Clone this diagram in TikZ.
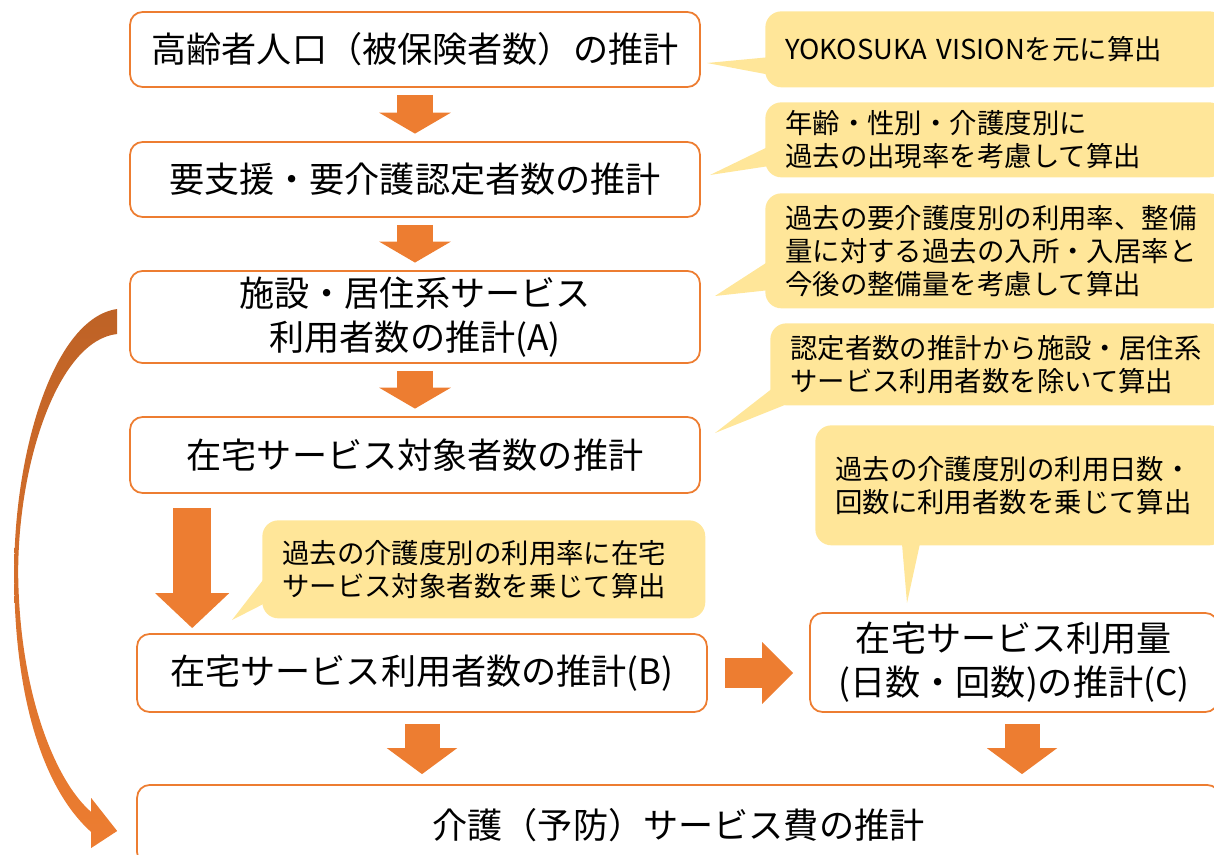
\documentclass[tikz,border=0pt]{standalone}
\usepackage{fontspec}
\setmainfont{Noto Sans CJK JP}
\usetikzlibrary{arrows.meta}
\definecolor{flowor}{HTML}{ED7D31}
\definecolor{flowdark}{RGB}{190,98,38}
\definecolor{memoy}{HTML}{FFE699}
\begin{document}
\begin{tikzpicture}[x=0.02cm, y=-0.02cm,
  estbox/.style={draw=flowor, line width=1pt, rounded corners=0.25cm, fill=white, minimum width=11.4cm, minimum height=1.5cm, align=center, font=\fontsize{20}{25}\selectfont},
  memo/.style={fill=memoy, rounded corners=0.32cm, anchor=north west, inner xsep=0.4cm, inner ysep=0pt, align=left, font=\fontsize{15.6}{18.8}\selectfont},
  flow/.style n args={3}{draw=flowor, line width=#1, -{Triangle[length=#3, width=#2]}}]
\useasboundingbox (0,0) rectangle (1214,855);
\clip (0,0) rectangle (1214,855);

\node[estbox] (pop) at (415,49.5) {高齢者人口（被保険者数）の推計};
\node[estbox] (cert) at (415,179.5) {要支援・要介護認定者数の推計};
\node[estbox, minimum height=1.8cm] (fac) at (415,317) {施設・居住系サービス\\利用者数の推計(A)};
\node[estbox, minimum height=1.52cm] (home) at (415,455) {在宅サービス対象者数の推計};
\node[estbox, minimum height=1.56cm] (use) at (422,673) {在宅サービス利用者数の推計(B)};
\node[estbox, minimum width=8.16cm, minimum height=1.98cm] (vol) at (1014,662.5) {在宅サービス利用量\\(日数・回数)の推計(C)};
\node[estbox, minimum width=21.66cm, minimum height=1.6cm] (cost) at (678.5,825) {介護（予防）サービス費の推計};

% notes on the right
\node[memo, text width=8.4cm, minimum height=1.52cm] (popnote) at (765,11) {YOKOSUKA VISIONを元に算出};
\node[memo, text width=8.4cm, minimum height=1.5cm] (certnote) at (765,102) {年齢・性別・介護度別に\\過去の出現率を考慮して算出};
\node[memo, text width=8.4cm, minimum height=2.3cm] (facnote) at (765,193) {過去の要介護度別の利用率、整備\\量に対する過去の入所・入居率と\\今後の整備量を考慮して算出};
\node[memo, text width=8.3cm, minimum height=1.64cm] (homenote) at (770,323) {認定者数の推計から施設・居住系\\サービス利用者数を除いて算出};
\node[memo, text width=7.4cm, minimum height=2.4cm] (volnote) at (815,425) {過去の介護度別の利用日数・\\回数に利用者数を乗じて算出};
\node[memo, text width=8.06cm, minimum height=1.96cm] (usenote) at (262,520) {過去の介護度別の利用率に在宅\\サービス対象者数を乗じて算出};

% pointers
\coordinate (popt) at (707,63);
\coordinate (certt) at (710,175);
\coordinate (fact) at (715,296);
\coordinate (homet) at (715,433);
\coordinate (volt) at (907,603);
\coordinate (uset) at (232,620);
\fill[memoy] ([xshift=0.04cm,yshift=-0.16cm]popnote.west) -- (popt) -- ([xshift=0.04cm,yshift=-0.5cm]popnote.west) -- cycle;
\fill[memoy] ([xshift=0.04cm,yshift=-0.15cm]certnote.west) -- (certt) -- ([xshift=0.04cm,yshift=-0.53cm]certnote.west) -- cycle;
\fill[memoy] ([xshift=0.04cm,yshift=-0.23cm]facnote.west) -- (fact) -- ([xshift=0.04cm,yshift=-0.79cm]facnote.west) -- cycle;
\fill[memoy] ([xshift=0.04cm,yshift=0.34cm]homenote.south west) -- (homet) -- ([xshift=0.36cm,yshift=0.04cm]homenote.south west) -- cycle;
\fill[memoy] ([xshift=1.74cm,yshift=0.04cm]volnote.south west) -- (volt) -- ([xshift=2.1cm,yshift=0.04cm]volnote.south west) -- cycle;
\fill[memoy] ([xshift=0.04cm,yshift=0.8cm]usenote.south west) -- (uset) -- ([xshift=0.04cm,yshift=0.3cm]usenote.south west) -- cycle;

% block arrows
\draw[flow={0.72cm}{1.42cm}{0.42cm}, shorten <=0.14cm, shorten >=0.15cm] (pop) -- (cert);
\draw[flow={0.72cm}{1.42cm}{0.42cm}, shorten <=0.14cm, shorten >=0.15cm] (cert) -- (fac);
\draw[flow={0.72cm}{1.42cm}{0.42cm}, shorten <=0.14cm, shorten >=0.15cm] (fac) -- (home);
\coordinate (bigtop) at ([xshift=1.26cm]home.south west);
\draw[flow={0.76cm}{1.44cm}{0.7cm}, shorten <=0.28cm, shorten >=0.1cm] (bigtop) -- (bigtop |- use.north);
\draw[flow={0.6cm}{1.2cm}{0.62cm}, shorten <=0.34cm, shorten >=0.32cm] (use.east) -- (use.east -| vol.west);
\draw[flow={0.7cm}{1.38cm}{0.52cm}, shorten <=0.22cm, shorten >=0.2cm] (use.south) -- (use.south |- cost.north);
\coordinate (volbot) at ([xshift=0.16cm]vol.south);
\draw[flow={0.7cm}{1.38cm}{0.52cm}, shorten <=0.22cm, shorten >=0.2cm] (volbot) -- (volbot |- cost.north);

% curved arrow from (A) down to the cost box
\begin{scope}[shift={(fac.west)}]
\shade[top color=flowdark, bottom color=flowor]
  (-12,-8) .. controls (-75,1) and (-115,133) .. (-115,256)
  .. controls (-115,383) and (-85,473) .. (-38,515)
  -- (-38,531) -- (-12,514) -- (-38,481) -- (-38,495)
  .. controls (-75,463) and (-110,373) .. (-111,256)
  .. controls (-111,143) and (-70,23) .. (-12,17) -- cycle;
\end{scope}
\end{tikzpicture}
\end{document}
